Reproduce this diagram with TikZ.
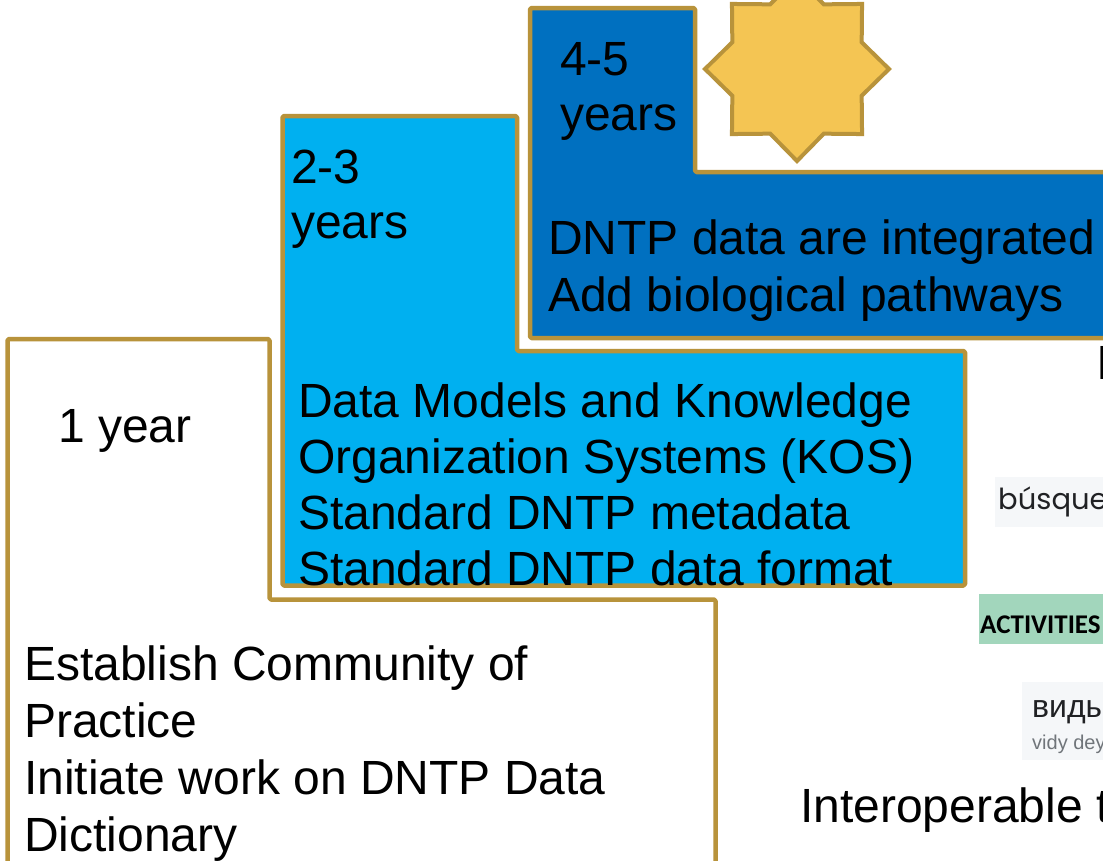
\documentclass[tikz,border=0pt]{standalone}
\usepackage{fontspec}
\setmainfont{Liberation Sans}
\newfontfamily\popfont{Poppins}
\newfontfamily\carlfont{Carlito}
\usetikzlibrary{calc}
\definecolor{gold}{HTML}{B8933B}
\definecolor{lightblue}{HTML}{00B0F0}
\definecolor{darkblue}{HTML}{0070C0}
\definecolor{starfill}{HTML}{F4C553}
\definecolor{greybg}{HTML}{F5F7F9}
\definecolor{greenbg}{HTML}{A2D6BC}
\definecolor{darktext}{HTML}{202124}
\definecolor{greytext}{HTML}{70757A}
\tikzset{
  box/.style={draw=gold, line width=4.5pt, rounded corners=1.5pt, line join=round},
  big/.style={anchor=base west, inner sep=0pt, font=\fontsize{48}{57}\selectfont, text=black},
}
\begin{document}
\begin{tikzpicture}[x=1pt, y=-1pt]
\useasboundingbox (0,0) rectangle (1103,860);
\fill[white] (0,0) rectangle (1103,860);
% boxes
\draw[box, fill=white] (7.5,339) -- (269.5,339) -- (269.5,599.5) -- (715.5,599.5) -- (715.5,880) -- (7.5,880) -- cycle;
\draw[box, fill=lightblue] (282.5,116) -- (517,116) -- (517,351) -- (965,351) -- (965,585.5) -- (282.5,585.5) -- cycle;
\draw[box, fill=darkblue] (530,8) -- (695,8) -- (695,172) -- (1125,172) -- (1125,338) -- (530,338) -- cycle;
% star
\coordinate (sc) at (797,69);
\draw[draw=gold, line width=4pt, fill=starfill, line join=miter]
  ($(sc)+(90:-92)$) \foreach \i in {0,...,7}{ -- ($(sc)+(\i*45+112.5:-70)$) -- ($(sc)+(\i*45+135:-92)$)} -- cycle;
% box 3 texts
\node[big] (t45a) at (560,75) {4-5};
\node[big] (t45b) at (560,130) {years};
\node[big] (d1) at (548,254) {DNTP data are integrated};
\node[big] (d2) at (548,311) {Add biological pathways};
% box 2 texts
\node[big] (t23a) at (291,183) {2-3};
\node[big] (t23b) at (291,238) {years};
\node[big] (m1) at (298,417) {Data Models and Knowledge};
\node[big] (m2) at (298,473) {Organization Systems (KOS)};
\node[big] (m3) at (298,529) {Standard DNTP metadata};
\node[big] (m4) at (298,585) {Standard DNTP data format};
% box 1 texts
\node[big] (t1) at (58,442) {1 year};
\node[big] (e1) at (24,680) {Establish Community of};
\node[big] (e2) at (24,737) {Practice};
\node[big] (e3) at (24,794) {Initiate work on DNTP Data};
\node[big] (e4) at (24,851) {Dictionary};
% right-side fragments
\node[big] (ri) at (1096,379) {I};
\node[big] (io) at (800,822) {Interoperable t};
\fill[greybg] (995,477) rectangle (1110,527);
\node[anchor=base west, inner sep=0pt, font=\popfont\fontsize{29}{32}\selectfont, text=darktext] (bq) at (998,509) {búsque};
\fill[greenbg] (979,594) rectangle (1110,644);
\node[anchor=base west, inner sep=0pt, font=\carlfont\bfseries\fontsize{27}{30}\selectfont, text=black] (act) at (980,633) {ACTIVITIES};
\fill[greybg] (1022,682) rectangle (1110,760);
\node[anchor=base west, inner sep=0pt, font=\fontsize{32}{36}\selectfont, text=darktext] (vd) at (1032,717) {виды};
\node[anchor=base west, inner sep=0pt, font=\fontsize{20}{24}\selectfont, text=greytext] (vdt) at (1032,749) {vidy dey};
\end{tikzpicture}
\end{document}
